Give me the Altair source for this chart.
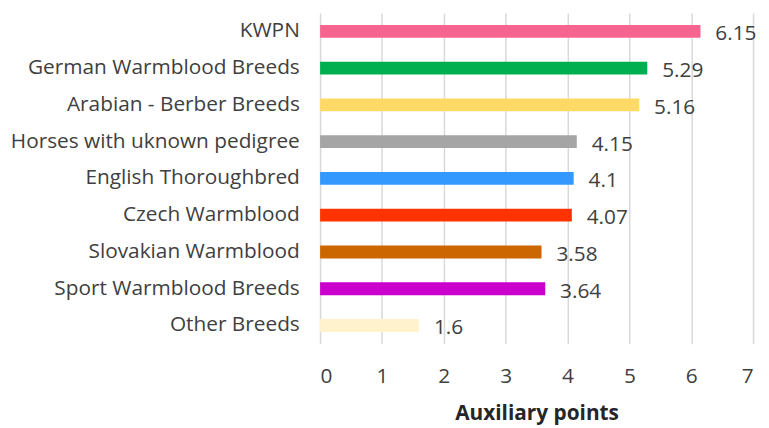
import altair as alt
import pandas as pd

breeds = ["KWPN", "German Warmblood Breeds", "Arabian - Berber Breeds",
          "Horses with uknown pedigree", "English Thoroughbred", "Czech Warmblood",
          "Slovakian Warmblood", "Sport Warmblood Breeds", "Other Breeds"]
points = [6.15, 5.29, 5.16, 4.15, 4.1, 4.07, 3.58, 3.64, 1.6]
labels = ["6.15", "5.29", "5.16", "4.15", "4.1", "4.07", "3.58", "3.64", "1.6"]
colors = ["#F7648F", "#00B050", "#FFD966", "#A5A5A5", "#3399FF", "#FF3300",
          "#CC6600", "#CC00CC", "#FFF2CC"]

df = pd.DataFrame({"breed": breeds, "points": points, "label": labels})

FONT = "Open Sans"
TXT = "#404040"
FS = 21

y = alt.Y("breed:N", sort=breeds, title=None,
          axis=alt.Axis(ticks=False, domain=False, labelPadding=21,
                        labelFontSize=FS, labelFont=FONT, labelColor=TXT,
                        labelLimit=400))
x = alt.X("points:Q", title="Auxiliary points",
          scale=alt.Scale(domain=[0, 7], nice=False),
          axis=alt.Axis(values=[0, 1, 2, 3, 4, 5, 6, 7], format="d", ticks=False,
                        domain=False, grid=True, gridColor="#D9D9D9", gridWidth=1.5,
                        labelPadding=22, labelFontSize=FS, labelFont=FONT,
                        labelColor=TXT, titleFont=FONT, titleFontSize=FS,
                        titleFontWeight="bold", titleColor="#262626",
                        titlePadding=16))

bars = alt.Chart(df).mark_bar(size=13).encode(
    x=x, y=y,
    color=alt.Color("breed:N", scale=alt.Scale(domain=breeds, range=colors), legend=None),
)
text = alt.Chart(df).mark_text(align="left", baseline="middle", dx=15, dy=3,
                               fontSize=FS, font=FONT, color=TXT).encode(
    x="points:Q", y=alt.Y("breed:N", sort=breeds), text="label:N"
)

chart = (bars + text).properties(
    width=437, height=334,
    autosize=alt.AutoSizeParams(type="none"),
    padding={"left": 315, "top": 3, "right": 8, "bottom": 90},
).configure_view(stroke=None)

chart.save("out.html", embed_options={"renderer": "svg", "actions": False})
